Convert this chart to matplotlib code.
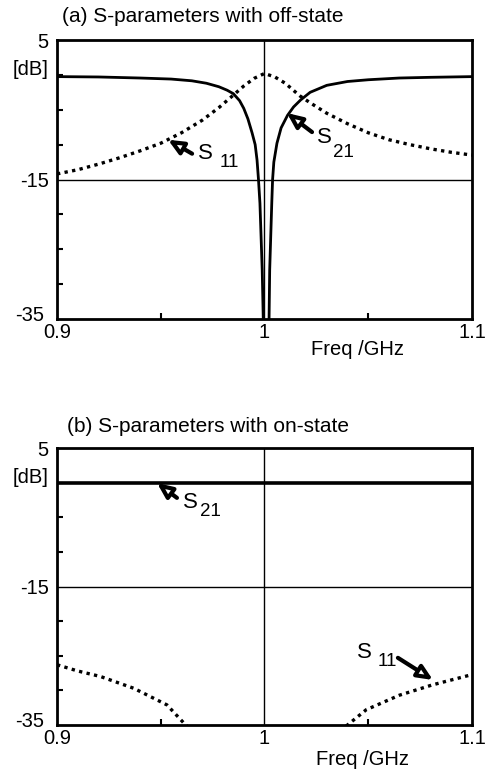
import matplotlib
matplotlib.use("Agg")
import matplotlib.pyplot as plt
from matplotlib.ticker import FixedLocator
from matplotlib.transforms import ScaledTranslation

plt.rcParams['font.family'] = ['Liberation Sans', 'DejaVu Sans']

# (a) off-state
f_s21_a = [0.900, 0.920, 0.940, 0.955, 0.965, 0.972, 0.978, 0.982, 0.985, 0.988,
           0.990, 0.992, 0.994, 0.9955, 0.9964, 0.9971, 0.9978, 0.9989, 0.9994, 0.9998,
           1.0018, 1.0022, 1.0025, 1.0035, 1.0039, 1.0045, 1.006, 1.008, 1.0111, 1.014,
           1.0174, 1.022, 1.030, 1.040, 1.050, 1.065, 1.080, 1.100]
s21_a = [-0.25, -0.3, -0.45, -0.6, -0.85, -1.2, -1.7, -2.2, -2.7, -3.7,
         -4.8, -6.3, -8.3, -10.0, -12.2, -15.0, -18.4, -28.0, -35.0, -45.0,
         -45.0, -35.0, -28.0, -18.4, -15.0, -12.5, -9.8, -7.6, -5.8, -4.6,
         -3.6, -2.5, -1.5, -0.95, -0.7, -0.45, -0.35, -0.25]

f_s11_a = [0.900, 0.910, 0.920, 0.930, 0.940, 0.950, 0.960, 0.970, 0.978, 0.985,
           0.990, 0.995, 1.000, 1.005, 1.010, 1.017, 1.022, 1.030, 1.040, 1.050,
           1.060, 1.070, 1.080, 1.090, 1.100]
s11_a = [-14.2, -13.6, -12.8, -11.9, -10.9, -9.8, -8.3, -6.5, -4.7, -2.9,
         -1.6, -0.5, 0.2, -0.3, -1.2, -3.0, -4.0, -5.5, -7.0, -8.3,
         -9.3, -10.0, -10.6, -11.1, -11.5]

# (b) on-state
f_s21_b = [0.900, 1.000, 1.100]
s21_b = [-0.05, -0.05, -0.05]

f_s11_b = [0.900, 0.910, 0.921, 0.937, 0.953, 0.962, 0.970,
           1.030, 1.040, 1.049, 1.065, 1.081, 1.099, 1.100]
s11_b = [-26.3, -27.2, -28.0, -29.7, -32.1, -35.0, -37.0,
         -37.0, -35.0, -32.8, -30.7, -29.2, -27.8, -27.7]

yticks = [5, 1, -15, -35]
ytick_labels = ['5', '[dB]', '-15', '-35']
xticks = [0.9, 1.0, 1.1]
xtick_labels = ['0.9', '1', '1.1']

W, H = 492, 771
fig = plt.figure(figsize=(W / 100, H / 100), dpi=100)
ax1 = fig.add_axes([57 / W, 1 - 319 / H, 415 / W, 279 / H])
ax2 = fig.add_axes([57 / W, 1 - 725 / H, 415 / W, 277 / H])

dotted = (0, (1.0, 1.3))

def setup(ax, xl, yl):
    ax.set_xlim(0.9, 1.1)
    ax.set_ylim(-35, 5)
    ax.axvline(1.0, color='black', lw=1.0, zorder=1)
    ax.axhline(-15, color='black', lw=1.0, zorder=1)
    ax.set_yticks(yticks)
    ax.set_yticklabels(ytick_labels)
    ax.set_xticks(xticks)
    ax.set_xticklabels(xtick_labels)
    ax.yaxis.set_minor_locator(FixedLocator([0, -5, -10, -20, -25, -30]))
    ax.xaxis.set_minor_locator(FixedLocator([0.95, 1.05]))
    ax.tick_params(which='major', length=0, labelsize=14.5)
    ax.tick_params(axis='y', which='major', pad=6)
    ax.tick_params(axis='x', which='major', pad=3)
    ax.tick_params(which='minor', direction='in', length=4, width=1.5)
    for s in ax.spines.values():
        s.set_linewidth(2.0)
    # lift "-35" a little off the "0.9" label
    lab = ax.get_yticklabels()[-1]
    lab.set_transform(lab.get_transform() + ScaledTranslation(-3 / 72, 4 / 72, fig.dpi_scale_trans))
    ax.text(xl, yl, 'Freq /GHz', transform=ax.transAxes, fontsize=14.5,
            ha='center', va='center')

def label(ax, xs, ys, sub, xb, yb, tail, head):
    ax.text(xs, ys, 'S', fontsize=16, ha='left', va='center')
    ax.text(xb, yb, sub, fontsize=13.5, ha='left', va='center')
    ax.annotate('', xy=head, xytext=tail,
                arrowprops=dict(arrowstyle='-|>,head_length=0.9,head_width=0.4',
                                lw=3.0, fc='white', ec='black',
                                shrinkA=0, shrinkB=0))

setup(ax1, 0.725, -0.111)
ax1.plot(f_s21_a, s21_a, color='black', lw=2.0, zorder=3)
ax1.plot(f_s11_a, s11_a, color='black', lw=2.4, ls=dotted, zorder=3)
label(ax1, 0.9680, -11.3, '11', 0.9785, -12.6, (0.9651, -11.3), (0.9535, -9.3))
label(ax1, 1.0253, -9.05, '21', 1.0330, -11.06, (1.0229, -8.2), (1.0108, -5.47))

setup(ax2, 0.735, -0.125)
ax2.plot(f_s21_b, s21_b, color='black', lw=2.6, zorder=3)
ax2.plot(f_s11_b, s11_b, color='black', lw=2.4, ls=dotted, zorder=3)
label(ax2, 0.9607, -2.94, '21', 0.9689, -4.24, (0.9578, -2.2), (0.9482, -0.05))
label(ax2, 1.0446, -24.46, '11', 1.0547, -25.9, (1.0643, -25.3), (1.0812, -28.5))

fig.text(62 / W, 1 - 17 / H, '(a) S-parameters with off-state', fontsize=15,
         ha='left', va='center')
fig.text(67 / W, 1 - 427 / H, '(b) S-parameters with on-state', fontsize=15,
         ha='left', va='center')

fig.savefig('out.png', dpi=100)
